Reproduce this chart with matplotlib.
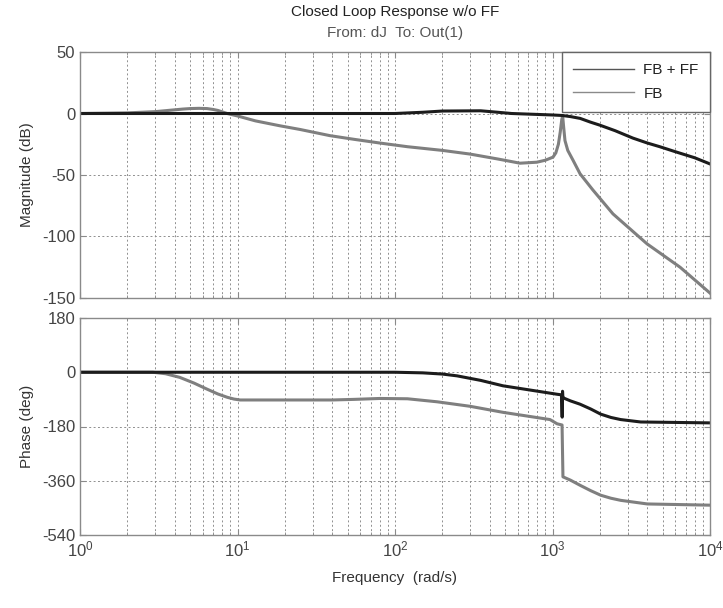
import numpy as np
import matplotlib
matplotlib.use("Agg")
import matplotlib.pyplot as plt
from matplotlib.lines import Line2D
from matplotlib.ticker import LogLocator, NullFormatter

plt.rcParams['font.family'] = ['Liberation Sans', 'DejaVu Sans']
plt.rcParams['axes.unicode_minus'] = False
plt.rcParams['mathtext.fontset'] = 'custom'
plt.rcParams['mathtext.rm'] = 'Liberation Sans'
plt.rcParams['mathtext.it'] = 'Liberation Sans'

# ---- data ----
mag_ffb_w = [1, 100, 150, 200, 350, 450, 550, 1000, 1150, 1300, 1500, 1740, 2000, 2500,
             3240, 4000, 4800, 6000, 8000, 10000]
mag_ffb_db = [0, 0, 1.0, 2.0, 2.2, 1.0, 0, -1.2, -1.6, -2.5, -4, -7, -9.5, -14,
              -20, -24, -27, -31, -36, -41]

mag_fb_w = [1, 2, 3, 3.5, 4, 4.5, 5, 5.7, 6.4, 7, 7.5, 8.6, 10, 13, 18.6, 25, 38.6, 55, 80,
            120, 200, 300, 450, 622, 795, 900, 1007, 1050, 1090, 1120, 1145, 1160, 1175,
            1200, 1250, 1350, 1496, 1800, 2420, 3985, 6460, 10000]
mag_fb_db = [0, 0.5, 1.5, 2.3, 3.0, 3.6, 4.0, 4.2, 4.0, 3.3, 2.5, 0, -2, -6, -10, -13, -18,
             -21, -24, -27, -30, -33, -37, -40.4, -39.6, -38, -35.5, -32, -25, -15, -5, -2,
             -10, -22, -30, -38, -49, -62, -81.6, -106, -125, -146]

ph_ffb_w = [1, 100, 150, 200, 248, 350, 485, 700, 1069, 1140, 1152, 1158, 1163, 1170, 1300,
            1496, 1750, 2023, 2350, 2710, 3630, 10000]
ph_ffb_deg = [0, 0, -2, -6, -12, -27, -45, -58, -73, -75, -149, -63, -80, -85, -95,
              -106, -122, -139, -150, -157, -165, -168]

ph_fb_w = [1, 2.9, 3.5, 4.3, 5.3, 6.4, 7.5, 8.6, 9.5, 10.4, 40, 55, 80, 120, 185, 300, 485,
           964, 1069, 1150, 1165, 1300, 1496, 1750, 2023, 2350, 2710, 4000, 10000]
ph_fb_deg = [0, 0, -5, -17, -36, -56, -72, -83, -89, -92, -92, -90, -87, -88, -98, -113,
             -133, -157, -171, -175, -347, -358, -375, -393, -408, -418, -425, -437, -441]

mag_ticks = [-150, -100, -50, 0, 50]
ph_ticks = [-540, -360, -180, 0, 180]
series_labels = ["FB + FF", "FB"]

# ---- styling ----
c_ffb = '#1c1c1c'
c_fb = '#7f7f7f'
axis_col = '#8a8a8a'
grid_kw = dict(color='#8f8f8f', linestyle=(0, (2, 2.5)), linewidth=0.7)

fig = plt.figure(figsize=(7.23, 6.08), dpi=100)
ax1 = fig.add_axes([80/723, 1 - 298/608, 630/723, 246/608])
ax2 = fig.add_axes([80/723, 1 - 535/608, 630/723, 217/608])

ax1.plot(mag_fb_w, mag_fb_db, color=c_fb, lw=2.2, solid_joinstyle='round')
ax1.plot(mag_ffb_w, mag_ffb_db, color=c_ffb, lw=2.2, solid_joinstyle='round')
ax2.plot(ph_fb_w, ph_fb_deg, color=c_fb, lw=2.2, solid_joinstyle='round')
ax2.plot(ph_ffb_w, ph_ffb_deg, color=c_ffb, lw=2.2, solid_joinstyle='round')

for ax, yt, yl in ((ax1, mag_ticks, 'Magnitude (dB)'), (ax2, ph_ticks, 'Phase (deg)')):
    ax.set_xscale('log')
    ax.set_xlim(1, 1e4)
    ax.set_ylim(yt[0], yt[-1])
    ax.set_yticks(yt)
    ax.xaxis.set_major_locator(LogLocator(base=10, numticks=10))
    ax.xaxis.set_minor_locator(LogLocator(base=10, subs=np.arange(2, 10), numticks=100))
    ax.xaxis.set_minor_formatter(NullFormatter())
    ax.grid(True, which='both', axis='x', **grid_kw)
    ax.grid(True, which='major', axis='y', **grid_kw)
    ax.tick_params(which='both', direction='in', top=True, right=True,
                   colors=axis_col, labelcolor='#444444', labelsize=12)
    ax.tick_params(which='major', length=4)
    ax.tick_params(which='minor', length=2.5)
    for s in ax.spines.values():
        s.set_color(axis_col)
        s.set_linewidth(1.0)
    ax.set_ylabel(yl, fontsize=11, color='#333333', labelpad=6)
    ax.set_axisbelow(True)

ax1.tick_params(labelbottom=False)
ax2.set_xlabel('Frequency  (rad/s)', fontsize=11, color='#333333', labelpad=8)

handles = [Line2D([], [], color='#555555', lw=1.0), Line2D([], [], color='#8a8a8a', lw=1.0)]
leg = ax1.legend(handles, series_labels, loc='upper right', borderaxespad=0,
                 fancybox=False, framealpha=1, edgecolor='#666666', fontsize=11,
                 handlelength=4.0, handletextpad=0.6, borderpad=0.75, labelspacing=0.6)
leg.get_frame().set_linewidth(1.0)
for t in leg.get_texts():
    t.set_color('#222222')

fig.text(395/723, 1 - 12/608, 'Closed Loop Response w/o FF', ha='center', va='center',
         fontsize=11, color='#222222')
fig.text(395/723, 1 - 33/608, 'From: dJ  To: Out(1)', ha='center', va='center',
         fontsize=11, color='#555555')

fig.savefig('out.png', dpi=100)
